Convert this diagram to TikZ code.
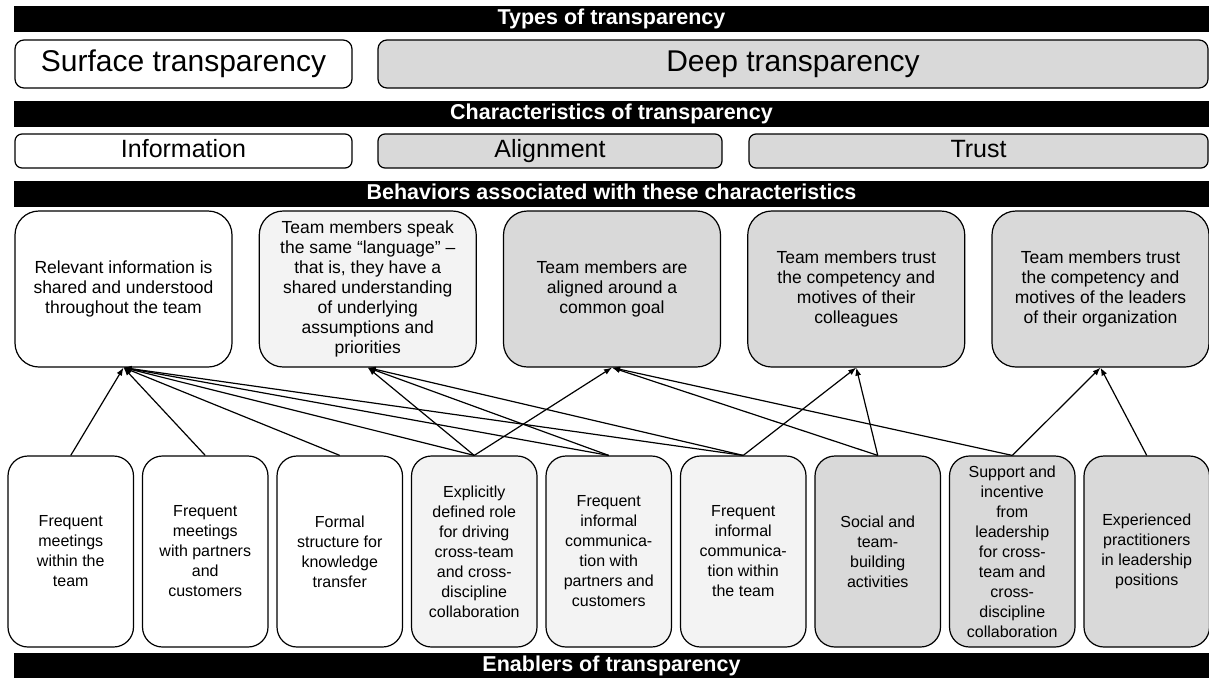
\documentclass[tikz,border=0pt]{standalone}
\usepackage{fontspec}
\setmainfont{Liberation Sans}
\usepackage{tikz}
\usetikzlibrary{arrows.meta,positioning}

\definecolor{paleGray}{HTML}{F3F3F3}
\definecolor{midGray}{HTML}{D9D9D9}

\begin{document}
\begin{tikzpicture}
  [
    x=1pt, y=-1pt,
    every node/.style={align=center, inner sep=2pt, line width=1.2pt},
    band/.style={fill=black, text=white, minimum width=1195pt, minimum height=26pt,
      text height=15.5pt, text depth=4.5pt, font=\fontsize{21.5}{24}\selectfont\bfseries},
    kind/.style={draw, rounded corners=9pt, minimum height=48pt, text height=21.5pt, text depth=6pt,
      font=\fontsize{30}{34}\selectfont},
    trait/.style={draw, rounded corners=7pt, minimum height=34pt, text height=18pt, text depth=5pt,
      font=\fontsize{25}{28}\selectfont},
    habit/.style={draw, rounded corners=24pt, minimum width=217pt, minimum height=156pt,
      font=\fontsize{17.5}{20}\selectfont},
    enabler/.style={draw, rounded corners=20pt, minimum width=125.5pt, minimum height=191pt,
      font=\fontsize{16}{20}\selectfont},
    pale/.style={fill=paleGray},
    grey/.style={fill=midGray},
    link/.style={-{Latex[length=8pt,width=6pt]}, line width=1.2pt},
  ]
  \useasboundingbox (0,0) rectangle (1209,678);

  % types
  \node [band] (types) at (611.5,19) {Types of transparency};
  \node [kind, minimum width=337pt] (surface) at (183.5,64) {Surface transparency};
  \node [kind, grey, minimum width=830pt] (deep) at (793,64) {Deep transparency};

  % characteristics
  \node [band] (traits) at (611.5,114) {Characteristics of transparency};
  \node [trait, minimum width=337pt] (information) at (183.5,151) {Information};
  \node [trait, grey, minimum width=344pt] (alignment) at (550,151) {Alignment};
  \node [trait, grey, minimum width=459pt] (trust) at (978.5,151) {Trust};

  % behaviors
  \node [band] (behaviors) at (611.5,194) {Behaviors associated with these characteristics};
  \node [habit] (h1) at (123.5,289) {Relevant information is\\shared and understood\\throughout the team};
  \node [habit, pale] (h2) at (367.75,289) {Team members speak\\the same “language” –\\that is, they have a\\shared understanding\\of underlying\\assumptions and\\priorities};
  \node [habit, grey] (h3) at (612,289) {Team members are\\aligned around a\\common goal};
  \node [habit, grey] (h4) at (856.25,289) {Team members trust\\the competency and\\motives of their\\colleagues};
  \node [habit, grey] (h5) at (1100.5,289) {Team members trust\\the competency and\\motives of the leaders\\of their organization};

  % enablers
  \node [enabler] (e1) at (70.75,551.5) {Frequent\\meetings\\within the\\team};
  \node [enabler] (e2) at (205.25,551.5) {Frequent\\meetings\\with partners\\and\\customers};
  \node [enabler] (e3) at (339.75,551.5) {Formal\\structure for\\knowledge\\transfer};
  \node [enabler, pale] (e4) at (474.25,551.5) {Explicitly\\defined role\\for driving\\cross-team\\and cross-\\discipline\\collaboration};
  \node [enabler, pale] (e5) at (608.75,551.5) {Frequent\\informal\\communica-\\tion with\\partners and\\customers};
  \node [enabler, pale] (e6) at (743.25,551.5) {Frequent\\informal\\communica-\\tion within\\the team};
  \node [enabler, grey] (e7) at (877.75,551.5) {Social and\\team-\\building\\activities};
  \node [enabler, grey] (e8) at (1012.25,551.5) {Support and\\incentive\\from\\leadership\\for cross-\\team and\\cross-\\discipline\\collaboration};
  \node [enabler, grey] (e9) at (1146.75,551.5) {Experienced\\practitioners\\in leadership\\positions};
  \node [band, minimum height=25pt] (enablers) at (611.5,665.5) {Enablers of transparency};

  \foreach \src/\dst in {e1/h1, e2/h1, e3/h1, e4/h1, e5/h1, e6/h1,
                         e4/h2, e5/h2, e6/h2,
                         e4/h3, e7/h3, e8/h3,
                         e6/h4, e7/h4,
                         e8/h5, e9/h5}
    \draw [link] (\src.north) -- (\dst.south);
\end{tikzpicture}
\end{document}
